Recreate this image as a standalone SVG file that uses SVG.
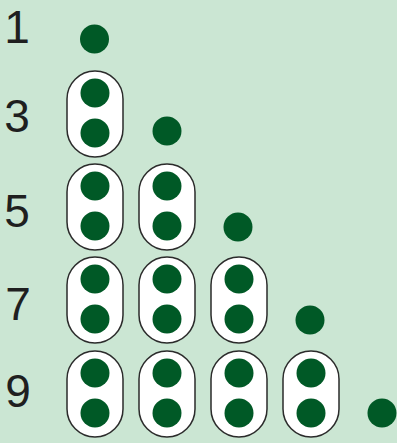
<svg xmlns="http://www.w3.org/2000/svg" width="397" height="443" viewBox="0 0 397 443">
<style>
.bg{fill:#cbe6d3}
.num{font-family:"Liberation Sans",Arial,sans-serif;font-size:46px;fill:#1f1f1f;text-anchor:middle}
.pill{fill:#ffffff;stroke:#2b2b2b;stroke-width:1.5}
.dot{fill:#005926}
</style>
<defs>
<g id="pair">
<rect class="pill" x="-28" y="0" width="56" height="86" rx="28" ry="28"/>
<circle class="dot" cx="0" cy="22" r="14.5"/>
<circle class="dot" cx="0" cy="62" r="14.5"/>
</g>
</defs>
<rect class="bg" x="0" y="0" width="397" height="443"/>
<g id="labels">
<text class="num" x="17" y="43">1</text>
<text class="num" x="17" y="132">3</text>
<text class="num" x="17" y="227">5</text>
<text class="num" x="18" y="320">7</text>
<text class="num" x="18" y="407">9</text>
</g>
<g id="row1">
<circle class="dot" cx="94.5" cy="39" r="14.5"/>
</g>
<g id="row3">
<use href="#pair" x="95" y="71"/>
<circle class="dot" cx="167" cy="131" r="14.5"/>
</g>
<g id="row5">
<use href="#pair" x="95" y="164"/>
<use href="#pair" x="167" y="164"/>
<circle class="dot" cx="238" cy="227" r="14.5"/>
</g>
<g id="row7">
<use href="#pair" x="95" y="257"/>
<use href="#pair" x="167" y="257"/>
<use href="#pair" x="239" y="257"/>
<circle class="dot" cx="310" cy="320" r="14.5"/>
</g>
<g id="row9">
<use href="#pair" x="95" y="351"/>
<use href="#pair" x="167" y="351"/>
<use href="#pair" x="239" y="351"/>
<use href="#pair" x="311" y="351"/>
<circle class="dot" cx="382" cy="413" r="14.5"/>
</g>
</svg>
